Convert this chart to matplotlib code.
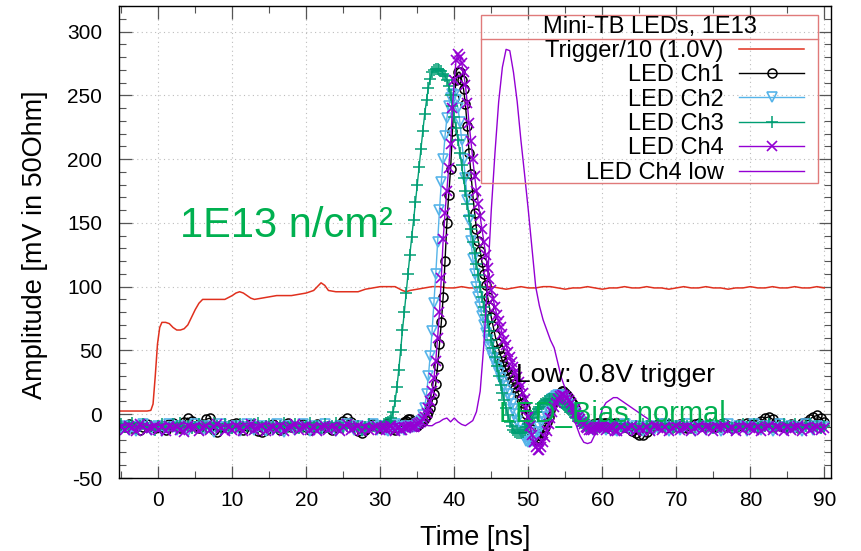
import numpy as np
import matplotlib
matplotlib.use("Agg")
import matplotlib.pyplot as plt
from matplotlib.patches import Rectangle
from matplotlib.lines import Line2D
from matplotlib.ticker import MultipleLocator

plt.rcParams['font.family'] = ['Liberation Sans', 'DejaVu Sans']
plt.rcParams['axes.unicode_minus'] = False

# ---------------- data ----------------
# LED channels: 0.5 ns samples on the baselines, 0.25 ns samples through the pulses
time_ns = np.concatenate([np.arange(-5.0, 29.9, 0.5),
                          np.arange(30.0, 61.9, 0.25),
                          np.arange(62.0, 90.01, 0.5)])
# Ch4 low trace: 0.5 ns samples
time_low_ns = np.arange(-5.0, 90.01, 0.5)

led_ch1 = [
    # -5 .. 29.5 (0.5 ns)
    -9, -10, -8, -11, -9, -12, -10, -8, -9, -11,
    -10, -9, -12, -8, -7, -10, -11, -6, -3, -5,
    -9, -11, -8, -4, -3, -12, -14, -10, -9, -11,
    -8, -7, -10, -12, -9, -8, -11, -13, -14, -12,
    -9, -8, -10, -12, -9, -7, -10, -11, -9, -8,
    -10, -12, -9, -8, -11, -10, -9, -12, -10, -8,
    -5, -3, -6, -10, -13, -15, -12, -9, -8, -10,
    # 30 .. 61.75 (0.25 ns)
    -11, -10, -9, -8, -7, -9, -10, -11,
    -12, -10, -9, -8, -8, -6, -5, -4,
    -4, -6, -7, -8, -9, -8, -6, -5,
    -3, -1, 2, 5, 10, 16, 24, 38,
    55, 72, 92, 120, 150, 172, 192, 222,
    248, 262, 268, 268, 262, 255, 243, 226,
    205, 188, 172, 158, 145, 136, 128, 119,
    110, 101, 92, 84, 76, 69, 62, 56,
    51, 46, 42, 38, 35, 32, 29, 26,
    24, 21, 18, 15, 12, 9, 5, 0,
    -6, -11, -16, -18, -20, -20, -19, -17,
    -14, -10, -6, -2, 3, 7, 10, 13,
    15, 17, 18, 18, 17, 15, 13, 10,
    8, 5, 2, 0, -3, -5, -6, -7,
    -8, -9, -9, -8, -8, -7, -7, -8,
    -8, -7, -7, -8, -9, -8, -8, -7,
    # 62 .. 90 (0.5 ns)
    -7, -8, -10, -11, -13, -15,
    -16, -16, -14, -11, -9, -8, -7, -9, -8, -10,
    -9, -8, -10, -11, -9, -8, -7, -9, -10, -8,
    -9, -10, -8, -7, -9, -11, -10, -8, -9, -7,
    -8, -9, -7, -5, -3, -2, -4, -7, -9, -10,
    -9, -8, -10, -9, -7, -6, -4, -2, -1, -3,
    -6]

led_ch2 = [
    -11, -9, -12, -10, -13, -9, -8, -11, -12, -10,
    -9, -13, -11, -8, -10, -12, -9, -11, -13, -10,
    -8, -10, -12, -9, -11, -14, -10, -8, -10, -12,
    -11, -9, -13, -10, -8, -11, -12, -10, -9, -13,
    -10, -12, -8, -11, -14, -9, -10, -12, -11, -8,
    -10, -13, -9, -11, -12, -8, -10, -11, -13, -9,
    -11, -8, -10, -12, -9, -13, -11, -10, -8, -12,
    # 30 .. 61.75
    -9, -10, -11, -12, -13, -11, -10, -9,
    -8, -10, -12, -11, -10, -12, -9, -10,
    -11, -10, -10, -9, -8, -7, -5, -1,
    5, 16, 30, 46, 65, 87, 110, 135,
    160, 182, 200, 218, 232, 242, 248, 251,
    250, 246, 240, 229, 215, 200, 185, 168,
    152, 136, 122, 110, 100, 92, 84, 77,
    70, 64, 58, 53, 48, 44, 40, 36,
    32, 28, 25, 22, 19, 16, 12, 8,
    4, 0, -5, -9, -13, -16, -19, -21,
    -22, -22, -21, -19, -17, -14, -10, -6,
    -2, 2, 5, 8, 10, 12, 13, 14,
    15, 15, 14, 13, 11, 9, 7, 5,
    3, 1, -1, -3, -5, -7, -8, -9,
    -10, -11, -11, -12, -10, -9, -9, -11,
    -10, -11, -12, -10, -9, -10, -11, -12,
    # 62 .. 90
    -13, -10, -8, -11, -12, -9,
    -11, -13, -10, -9, -12, -11, -8, -10, -13, -11,
    -9, -12, -10, -8, -11, -13, -10, -9, -12, -10,
    -11, -9, -13, -10, -8, -12, -11, -9, -10, -13,
    -10, -8, -11, -12, -9, -10, -13, -11, -8, -10,
    -12, -9, -11, -10, -13, -8, -10, -12, -9, -11,
    -10]

led_ch3 = [
    -8, -10, -9, -7, -11, -9, -8, -10, -9, -12,
    -9, -8, -10, -11, -8, -9, -7, -10, -9, -11,
    -10, -8, -9, -11, -10, -7, -9, -12, -8, -9,
    -11, -9, -8, -10, -9, -11, -8, -7, -10, -9,
    -8, -10, -11, -9, -7, -10, -9, -8, -11, -10,
    -9, -7, -10, -9, -11, -8, -10, -9, -7, -10,
    -11, -9, -8, -10, -9, -12, -10, -8, -9, -11,
    # 30 .. 61.75
    -9, -10, -8, -7, -6, -5, -3, 2,
    10, 21, 35, 50, 66, 80, 95, 110,
    125, 139, 152, 166, 180, 194, 208, 222,
    235, 246, 256, 263, 268, 270, 271, 271,
    270, 269, 267, 265, 262, 257, 250, 242,
    233, 224, 215, 205, 195, 185, 175, 165,
    155, 145, 135, 126, 118, 109, 100, 92,
    84, 78, 72, 65, 58, 52, 45, 38,
    30, 23, 17, 11, 5, -1, -6, -9,
    -12, -14, -15, -15, -15, -14, -12, -10,
    -8, -5, -3, 0, 2, 4, 6, 8,
    9, 10, 11, 12, 12, 12, 12, 12,
    11, 10, 9, 8, 6, 5, 3, 2,
    0, -2, -3, -5, -6, -7, -8, -9,
    -9, -10, -10, -9, -10, -11, -9, -8,
    -8, -9, -10, -11, -9, -8, -10, -9,
    # 62 .. 90
    -8, -9, -10, -8, -11, -9,
    -10, -8, -9, -11, -10, -8, -9, -10, -8, -11,
    -9, -10, -8, -9, -11, -10, -8, -9, -10, -8,
    -11, -9, -10, -8, -9, -11, -10, -9, -8, -10,
    -9, -8, -11, -10, -9, -8, -10, -11, -9, -8,
    -10, -9, -8, -11, -10, -9, -8, -10, -9, -11,
    -9]

led_ch4 = [
    -10, -12, -9, -11, -13, -8, -10, -12, -11, -9,
    -12, -10, -13, -9, -11, -10, -12, -14, -9, -11,
    -10, -13, -11, -9, -12, -10, -8, -11, -13, -10,
    -12, -9, -11, -13, -10, -8, -12, -11, -9, -13,
    -11, -10, -12, -9, -13, -11, -10, -8, -12, -10,
    -9, -12, -11, -13, -10, -9, -12, -10, -11, -13,
    -10, -8, -12, -11, -9, -13, -10, -12, -11, -9,
    # 30 .. 61.75
    -12, -11, -10, -12, -11, -9, -9, -11,
    -13, -11, -10, -12, -12, -10, -11, -10,
    -9, -10, -10, -9, -8, -7, -6, -4,
    -2, 1, 5, 10, 18, 28, 42, 60,
    80, 107, 137, 158, 175, 193, 212, 240,
    262, 278, 282, 280, 275, 268, 258, 244,
    228, 214, 200, 187, 175, 165, 155, 145,
    135, 125, 115, 106, 97, 90, 84, 78,
    73, 68, 63, 58, 54, 49, 45, 41,
    37, 33, 29, 25, 22, 17, 12, 5,
    -2, -9, -16, -22, -26, -28, -28, -26,
    -22, -18, -13, -8, -3, 2, 6, 9,
    12, 14, 15, 15, 14, 13, 11, 9,
    6, 4, 1, -2, -4, -6, -8, -10,
    -11, -12, -12, -12, -11, -10, -9, -10,
    -10, -11, -12, -11, -9, -10, -11, -13,
    # 62 .. 90
    -13, -10, -12, -11, -9, -13,
    -11, -12, -10, -13, -9, -11, -12, -10, -13, -11,
    -9, -12, -11, -10, -13, -11, -9, -12, -10, -11,
    -13, -10, -11, -9, -12, -11, -13, -10, -12, -9,
    -11, -12, -10, -13, -11, -9, -12, -10, -11, -13,
    -10, -12, -11, -9, -13, -10, -12, -11, -10, -12,
    -11]

led_ch4_low = [
    -8, -9, -7, -8, -10, -8, -7, -9, -8, -8,
    -9, -8, -7, -9, -8, -10, -8, -7, -8, -9,
    -8, -7, -9, -8, -8, -9, -7, -8, -10, -8,
    -7, -8, -9, -8, -7, -9, -8, -8, -9, -7,
    -8, -9, -8, -7, -8, -10, -8, -9, -7, -8,
    -9, -8, -8, -7, -9, -8, -10, -8, -7, -8,
    -8, -9, -7, -8, -8, -9, -8, -7, -9, -8,
    -8, -7, -9, -8, -8, -7, -9, -8, -8, -9,
    -8, -7, -8, -9, -9, -7, -6, -4, -3, -6,
    -3, -6, -8, -9, -7, -5, 2, 18, 55, 105,
    160, 205, 245, 272, 286, 285, 268, 245, 215, 188,
    160, 130, 100, 85, 74, 66, 58, 52, 40, 28,
    20, 10, 0, -9, -17, -22, -23, -22, -16, -6,
    4, 9, 11, 13, 13, 11, 9, 7, 5, 3,
    1, -1, -3, -5, -7, -8, -8, -9, -8, -7,
    -8, -9, -8, -7, -8, -9, -8, -8, -7, -9,
    -8, -8, -9, -7, -8, -9, -8, -7, -8, -9,
    -8, -7, -9, -8, -8, -9, -7, -8, -9, -8,
    -8, -9, -8, -7, -9, -8, -8, -7, -9, -8,
    -8]

trigger_t = [-5.3, -4, -3, -2, -1.5, -1.0, -0.7, -0.4, -0.1, 0.2, 0.5, 1, 1.5,
             2, 2.5, 3, 3.5, 4, 4.5, 5, 5.5, 6, 6.5, 7, 8, 9, 10, 10.5, 11,
             11.5, 12, 12.5, 13, 14, 15, 16, 17, 18, 19, 20, 21, 21.5, 22,
             22.5, 23, 24, 25, 26, 27, 28, 29, 30, 31, 32, 33, 33.5, 34, 35,
             36] + list(range(37, 91))
trigger_mv = [2.5, 2.5, 2.5, 2.5, 2.5, 3, 8, 30, 55, 68, 72, 72, 71,
              68, 66, 66, 67, 70, 76, 82, 87, 90, 90, 90, 90, 90, 93, 95, 96,
              95, 93, 91, 90, 91, 92, 93, 93, 93, 94, 95, 97, 100, 103,
              101, 97, 96, 96, 96, 96, 98, 99, 100, 100, 100, 97, 96, 97, 98,
              99,
              100, 100, 99, 99, 100, 99, 99, 100, 100, 99, 98, 99, 100, 99,
              99, 100, 100, 99, 98, 99, 99, 100, 99, 98, 99, 99, 100, 99,
              99, 100, 99, 99, 98, 99, 100, 99, 99, 100, 99, 99, 98, 99,
              99, 100, 99, 99, 100, 99, 99, 100, 99, 99, 100, 99]

x_ticks = list(range(0, 91, 10))
y_ticks = list(range(-50, 301, 50))

# ---------------- figure ----------------
W, H = 862, 551
fig = plt.figure(figsize=(W / 100, H / 100), dpi=100)
ax_l, ax_r, ax_t, ax_b = 119, 831, 6, 478
ax = fig.add_axes([ax_l / W, 1 - ax_b / H, (ax_r - ax_l) / W, (ax_b - ax_t) / H])

def px2ax(x, y):
    return (x - ax_l) / (ax_r - ax_l), (ax_b - y) / (ax_b - ax_t)

c_red = '#e0301e'
c_blk = '#000000'
c_cyn = '#56b4e9'
c_grn = '#009e73'
c_pur = '#9400d3'

ax.plot(trigger_t, trigger_mv, color=c_red, lw=1.1, label='Trigger/10 (1.0V)')
ax.plot(time_ns, led_ch1, color=c_blk, lw=1.0, marker='o', ms=6.5, mfc='none',
        mew=1.1, label='LED Ch1')
ax.plot(time_ns, led_ch2, color=c_cyn, lw=1.0, marker='v', ms=6.5, mfc='none',
        mew=1.2, label='LED Ch2')
ax.plot(time_ns, led_ch3, color=c_grn, lw=1.0, marker='+', ms=8, mew=1.1,
        label='LED Ch3')
ax.plot(time_ns, led_ch4, color=c_pur, lw=1.0, marker='x', ms=6.5, mew=1.2,
        label='LED Ch4')
ax.plot(time_low_ns, led_ch4_low, color=c_pur, lw=1.0, label='LED Ch4 low')

ax.set_xlim(-5.3, 90.9)
ax.set_ylim(-50, 320)
ax.set_xticks(x_ticks)
ax.set_yticks(y_ticks)
ax.xaxis.set_minor_locator(MultipleLocator(5))
ax.yaxis.set_minor_locator(MultipleLocator(10))
ax.tick_params(which='both', direction='in', top=True, right=True, color='#555555')
ax.tick_params(which='major', length=9, width=0.9, labelsize=15, pad=9)
ax.tick_params(axis='y', which='major', pad=12)
ax.tick_params(which='minor', length=5, width=0.8)
ax.grid(True, which='major', color='#bdbdbd', lw=0.8, ls=(0, (1, 3)))
for s in ax.spines.values():
    s.set_linewidth(1.0)

ax.set_xlabel('Time [ns]', fontsize=19.5)
ax.set_ylabel('Amplitude [mV in 50Ohm]', fontsize=19.5)
ax.xaxis.set_label_coords(*px2ax(475, 538))
ax.yaxis.set_label_coords(*px2ax(35, 245))
ax.xaxis.label.set_va('center')
ax.yaxis.label.set_va('center')

# annotations
ax.text(2.9, 139, '1E13 n/cm²', color='#00b050', fontsize=30, va='baseline', ha='left')
ax.text(48.4, 31, 'Low: 0.8V trigger', color='black', fontsize=19, va='center', ha='left',
        zorder=5)
ax.text(46.1, 0, 'LED_Bias normal', color='#00b050', fontsize=21, va='center', ha='left',
        zorder=4)

# legend (gnuplot style: right aligned labels, samples on the right)
lx, ly = px2ax(804, 40)
leg = ax.legend(loc='upper right', bbox_to_anchor=(lx, ly), borderaxespad=0,
                borderpad=0, frameon=False, markerfirst=False, fontsize=17,
                handlelength=2.75, handletextpad=0.65, labelspacing=0.1)
leg.set_zorder(6)
x0, y0 = px2ax(481, 183)
x1, y1 = px2ax(818, 15)
ax.add_patch(Rectangle((x0, y0), x1 - x0, y1 - y0, transform=ax.transAxes,
                       fill=False, edgecolor='#e07a7a', lw=1.0, zorder=6))
_, ys = px2ax(0, 39)
ax.add_line(Line2D([x0, x1], [ys, ys], transform=ax.transAxes, color='#e07a7a',
                   lw=1.0, zorder=6))
tx, ty = px2ax(650, 27)
ax.text(tx, ty, 'Mini-TB LEDs, 1E13', transform=ax.transAxes, fontsize=17,
        ha='center', va='center', zorder=6)

fig.savefig('out.png', dpi=100)
